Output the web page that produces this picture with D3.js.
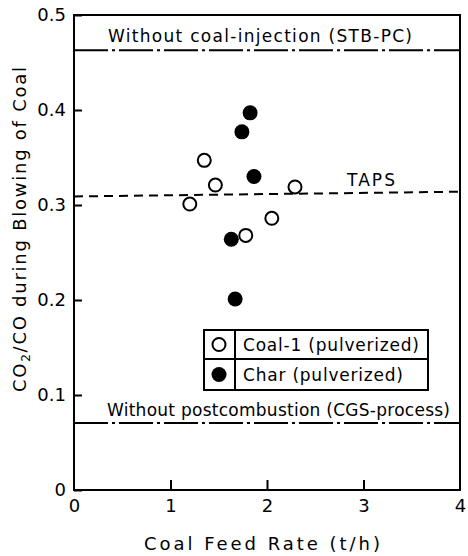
<!DOCTYPE html>
<html>
<head>
<meta charset="utf-8">
<script src="https://cdn.jsdelivr.net/npm/d3@7"></script>
<style>
  html, body { margin: 0; padding: 0; background: #fff; }
  svg { display: block; }
  text { font-family: "DejaVu Sans", "Liberation Sans", sans-serif; fill: #000; }
</style>
</head>
<body>
<script>
// Coal-1 (pulverized) measurements: feed rate (t/h) and CO2/CO ratio
const coalFeed = [1.2, 1.35, 1.465, 1.78, 2.05, 2.29];
const coalRatio = [0.301, 0.347, 0.321, 0.268, 0.286, 0.319];
// Char (pulverized) measurements
const charFeed = [1.825, 1.74, 1.865, 1.63, 1.67];
const charRatio = [0.397, 0.377, 0.330, 0.264, 0.201];
// Reference levels
const stbRatio = 0.463;            // without coal injection (STB-PC)
const cgsRatio = 0.0705;           // without postcombustion (CGS process)
const tapsRatio = [0.309, 0.314];  // TAPS line at x = 0 and x = 4
const xTicks = [0, 1, 2, 3, 4];
const yTicks = [0, 0.1, 0.2, 0.3, 0.4, 0.5];

const W = 468, H = 556;
const mLeft = 74, mRight = 460, mTop = 15, mBottom = 490;

const svg = d3.select("body").append("svg").attr("width", W).attr("height", H);

const x = d3.scaleLinear().domain([0, 4]).range([mLeft, mRight]);
const y = d3.scaleLinear().domain([0, 0.5]).range([mBottom, mTop]);

// Frame
svg.append("rect")
  .attr("x", mLeft).attr("y", mTop)
  .attr("width", mRight - mLeft).attr("height", mBottom - mTop)
  .attr("fill", "none").attr("stroke", "#000").attr("stroke-width", 2);

// Y axis: inward ticks, labels on the left
const yAxis = d3.axisLeft(y).tickValues(yTicks).tickSize(-8).tickPadding(8)
  .tickFormat(d => d === 0 ? "0" : d3.format(".1f")(d));
const gy = svg.append("g").attr("transform", `translate(${mLeft},0)`).call(yAxis);
gy.select(".domain").remove();
gy.selectAll(".tick line").attr("stroke", "#000").attr("stroke-width", 2);
gy.selectAll(".tick text").attr("font-size", 18).attr("font-family", "DejaVu Sans");

// X axis: inward ticks, labels below
const xAxis = d3.axisBottom(x).tickValues(xTicks).tickSize(-10).tickPadding(9)
  .tickFormat(d3.format("d"));
const gx = svg.append("g").attr("transform", `translate(0,${mBottom})`).call(xAxis);
gx.select(".domain").remove();
gx.selectAll(".tick line").attr("stroke", "#000").attr("stroke-width", 2)
  .filter(d => d === 0 || d === 4).remove();
gx.selectAll(".tick text").attr("font-size", 18).attr("font-family", "DejaVu Sans");

// Axis titles
svg.append("text")
  .attr("x", 144).attr("y", 550)
  .attr("font-size", 18).attr("textLength", 236).attr("lengthAdjust", "spacing")
  .text("Coal Feed Rate (t/h)");

const yt = svg.append("text")
  .attr("transform", `translate(26,392) rotate(-90)`)
  .attr("font-size", 18).attr("textLength", 325).attr("lengthAdjust", "spacing");
yt.append("tspan").text("CO");
yt.append("tspan").attr("font-size", 12).attr("dy", 4).text("2");
yt.append("tspan").attr("dy", -4).text("/CO  during  Blowing  of  Coal");

// Reference lines
const refLine = d3.line().x(d => x(d[0])).y(d => y(d[1]));
svg.append("path")
  .attr("d", refLine([[0, stbRatio], [4, stbRatio]]))
  .attr("fill", "none").attr("stroke", "#000").attr("stroke-width", 2)
  .attr("stroke-dasharray", "34,4,3,4");
svg.append("path")
  .attr("d", refLine([[0, cgsRatio], [4, cgsRatio]]))
  .attr("fill", "none").attr("stroke", "#000").attr("stroke-width", 2)
  .attr("stroke-dasharray", "34,4,3,4");
svg.append("path")
  .attr("d", refLine([[0, tapsRatio[0]], [4, tapsRatio[1]]]))
  .attr("fill", "none").attr("stroke", "#000").attr("stroke-width", 2)
  .attr("stroke-dasharray", "9,6");

// Line labels
svg.append("text")
  .attr("x", 108).attr("y", y(stbRatio) - 8)
  .attr("font-size", 17).attr("textLength", 304).attr("lengthAdjust", "spacing")
  .text("Without  coal-injection (STB-PC)");
svg.append("text")
  .attr("x", 107).attr("y", y(cgsRatio) - 7)
  .attr("font-size", 17).attr("textLength", 343).attr("lengthAdjust", "spacing")
  .text("Without  postcombustion  (CGS-process)");
svg.append("text")
  .attr("x", 347).attr("y", y(tapsRatio[1]) - 6)
  .attr("font-size", 17).attr("textLength", 48).attr("lengthAdjust", "spacing")
  .text("TAPS");

// Data points
const r = 7;
svg.append("g").selectAll("circle")
  .data(d3.zip(coalFeed, coalRatio)).join("circle")
  .attr("cx", d => x(d[0])).attr("cy", d => y(d[1])).attr("r", r - 0.5)
  .attr("fill", "#fff").attr("stroke", "#000").attr("stroke-width", 2);
svg.append("g").selectAll("circle")
  .data(d3.zip(charFeed, charRatio)).join("circle")
  .attr("cx", d => x(d[0])).attr("cy", d => y(d[1])).attr("r", r + 0.5)
  .attr("fill", "#000");

// Legend table
const lg = svg.append("g");
const lx0 = 204, lx1 = 235, lx2 = 428, ly0 = 330, ly1 = 359, ly2 = 390;
lg.append("rect").attr("x", lx0).attr("y", ly0).attr("width", lx2 - lx0).attr("height", ly2 - ly0)
  .attr("fill", "#fff").attr("stroke", "#000").attr("stroke-width", 2);
lg.append("line").attr("x1", lx0).attr("x2", lx2).attr("y1", ly1).attr("y2", ly1)
  .attr("stroke", "#000").attr("stroke-width", 2);
lg.append("line").attr("x1", lx1).attr("x2", lx1).attr("y1", ly0).attr("y2", ly2)
  .attr("stroke", "#000").attr("stroke-width", 2);
lg.append("circle").attr("cx", 219).attr("cy", (ly0 + ly1) / 2).attr("r", r - 0.5)
  .attr("fill", "#fff").attr("stroke", "#000").attr("stroke-width", 2);
lg.append("circle").attr("cx", 219).attr("cy", (ly1 + ly2) / 2).attr("r", r + 0.5)
  .attr("fill", "#000");
lg.append("text").attr("x", 243).attr("y", (ly0 + ly1) / 2 + 6)
  .attr("font-size", 17).attr("textLength", 176).attr("lengthAdjust", "spacing")
  .text("Coal-1  (pulverized)");
lg.append("text").attr("x", 243).attr("y", (ly1 + ly2) / 2 + 6)
  .attr("font-size", 17).attr("textLength", 160).attr("lengthAdjust", "spacing")
  .text("Char  (pulverized)");
</script>
</body>
</html>
